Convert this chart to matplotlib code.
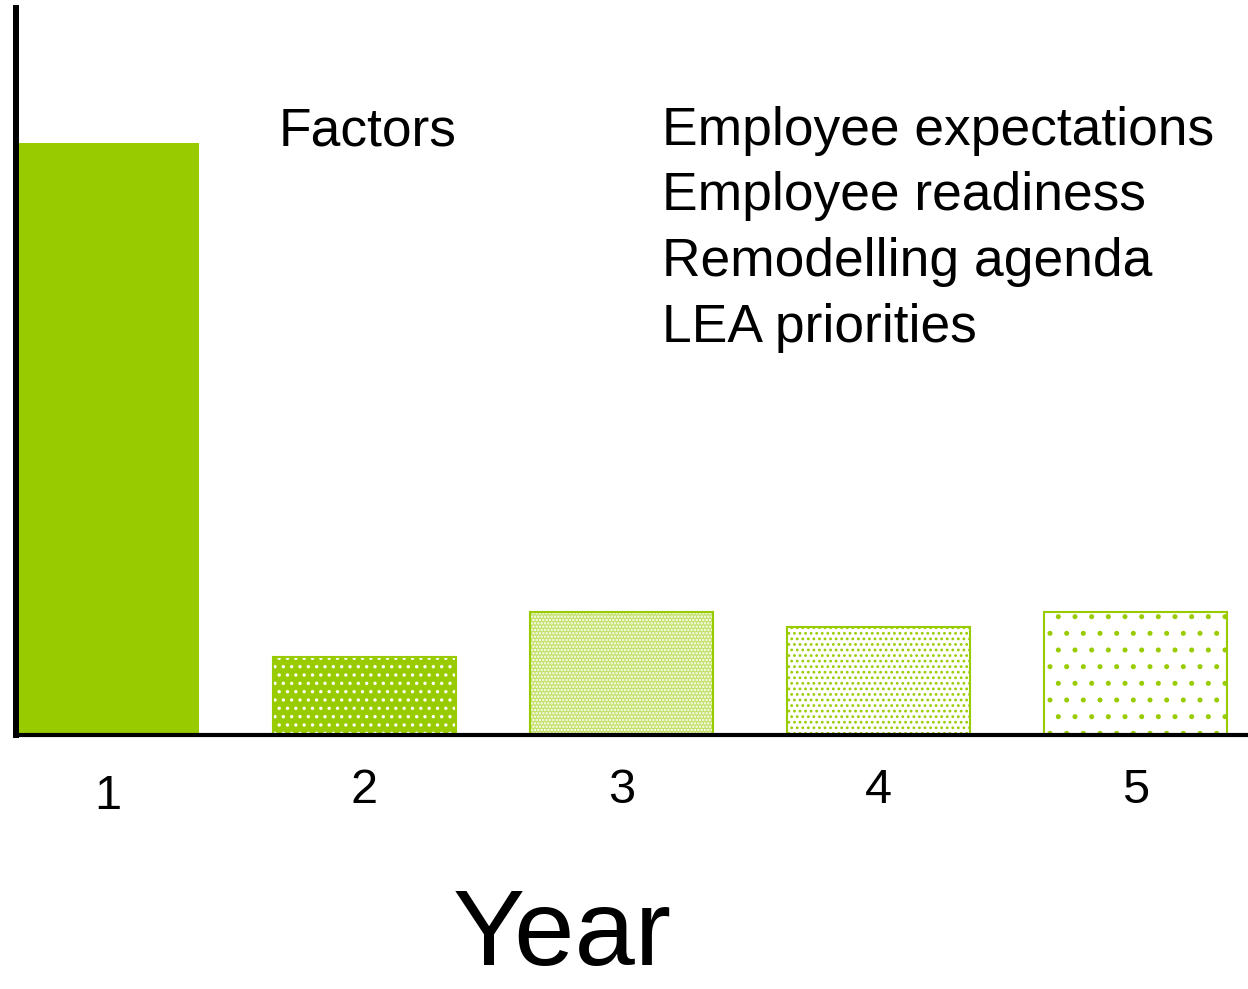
import numpy as np
import matplotlib.pyplot as plt

plt.rcParams['font.family'] = ['Liberation Sans', 'DejaVu Sans']
plt.rcParams['hatch.linewidth'] = 1.2

# data (arbitrary units, axis top = 100)
years = [1, 2, 3, 4, 5]
values = [81.4, 10.7, 16.9, 14.9, 16.9]
factors = ["Employee expectations", "Employee readiness",
           "Remodelling agenda", "LEA priorities"]

green = '#99cc00'
# face colour, hatch pattern, hatch colour for each bar
faces = [green, green, '#c2e066', 'white', 'white']
hatches = [None, '..', '.....', '...', '.']
hatch_cols = [None, 'white', 'white', green, green]

fig = plt.figure(figsize=(12.48, 9.89), dpi=100)
ax = fig.add_axes([16/1248, 254/989, 1 - 16/1248, 727/989])

w = 0.712
for i in range(len(years)):
    ax.bar(years[i], values[i], width=w, color=faces[i], linewidth=0, zorder=1)
    if hatches[i]:
        ax.bar(years[i], values[i], width=w, fill=False, hatch=hatches[i],
               edgecolor=hatch_cols[i], linewidth=0, zorder=2)
        ax.bar(years[i], values[i], width=w, fill=False, edgecolor=green,
               linewidth=1.5, zorder=3)

ax.set_xlim(1 - w/2, 1 - w/2 + 1232/257)
ax.set_ylim(0, 100)
ax.set_xticks([])
ax.set_yticks([])
for s in ['top', 'right']:
    ax.spines[s].set_visible(False)
ax.spines['left'].set_linewidth(4.3)
ax.spines['bottom'].set_linewidth(3.0)
ax.spines['left'].set_zorder(5)
ax.spines['bottom'].set_zorder(5)

# year labels under the bars, "1" sits a bit lower in the original
for i, yr in enumerate(years):
    off = 28 if i == 0 else 24
    ax.annotate(str(yr), xy=(yr, 0), xycoords=('data', 'axes fraction'),
                xytext=(0, -off), textcoords='offset points',
                ha='center', va='top', fontsize=35)

fig.text(562/1248, 2/989, "Year", ha='center', va='bottom', fontsize=78)

fig.text(279/1248, (989 - 145)/989, "Factors", ha='left', va='baseline', fontsize=38.4)
base = [145, 210, 276, 342]
for txt, b in zip(factors, base):
    fig.text(662/1248, (989 - b)/989, txt, ha='left', va='baseline', fontsize=38.4)

fig.savefig('out.png', dpi=100)
